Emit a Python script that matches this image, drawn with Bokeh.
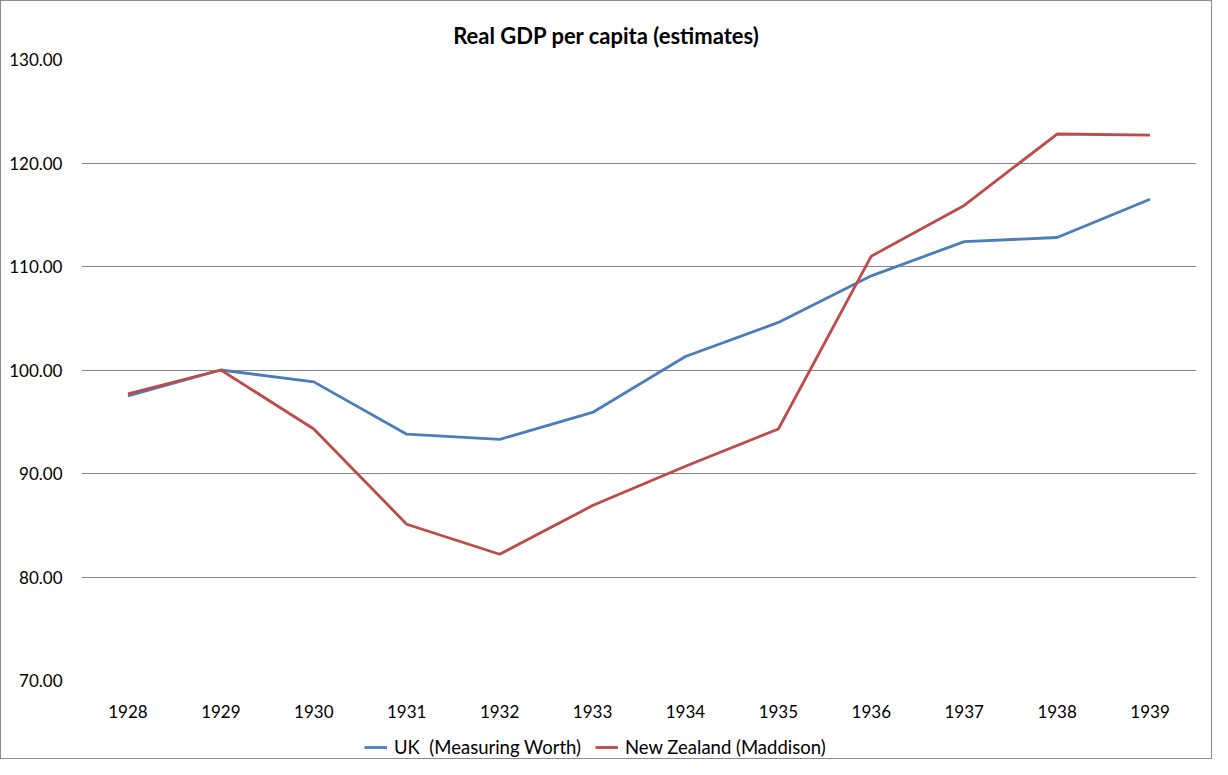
from bokeh.plotting import figure
from bokeh.layouts import column
from bokeh.models import Legend, LegendItem, FactorRange, Range1d, FixedTicker, CustomJSTickFormatter, Label
from bokeh.embed import file_html
from bokeh.resources import INLINE

years = ["1928", "1929", "1930", "1931", "1932", "1933", "1934", "1935", "1936", "1937", "1938", "1939"]
uk = [97.5, 100.0, 98.85, 93.8, 93.3, 95.9, 101.3, 104.6, 109.1, 112.4, 112.8, 116.5]
nz = [97.7, 100.0, 94.3, 85.1, 82.2, 86.9, 90.7, 94.3, 111.0, 115.9, 122.8, 122.7]
y_ticks = [70, 80, 90, 100, 110, 120, 130]
title_text = "Real GDP per capita (estimates)"
uk_label = "UK  (Measuring Worth)"
nz_label = "New Zealand (Maddison)"

FONT = "Lato"
UK_COLOR = "#4A7EBB"
NZ_COLOR = "#BE4B48"
W = 1210

# title strip (its frame is aligned with the chart's frame)
t = figure(width=W, height=48, output_backend="svg", toolbar_location=None,
           x_range=Range1d(0, 1), y_range=Range1d(0, 1),
           min_border=0, outline_line_color=None)
t.axis.visible = False
t.grid.visible = False
t.add_layout(Label(x=525, y=14, x_units="screen", y_units="screen", text=title_text,
                   text_font=FONT, text_font_size="22px", text_font_style="bold",
                   text_color="black", text_align="center", text_baseline="alphabetic"))

p = figure(width=W, height=673, output_backend="svg", toolbar_location=None,
           x_range=FactorRange(*years, range_padding=0), y_range=Range1d(70, 130),
           min_border_left=80, min_border_right=15, min_border_top=10, min_border_bottom=42)

p.outline_line_color = None
p.xgrid.grid_line_color = None
p.ygrid.grid_line_color = "#868686"
p.ygrid.grid_line_width = 1

p.yaxis.ticker = FixedTicker(ticks=y_ticks)
p.yaxis.formatter = CustomJSTickFormatter(code="return tick.toFixed(2);")
for ax in (p.xaxis[0], p.yaxis[0]):
    ax.axis_line_color = None
    ax.major_tick_line_color = None
    ax.minor_tick_line_color = None
    ax.major_label_text_font = FONT
    ax.major_label_text_font_size = "17px"
    ax.major_label_text_color = "black"
p.yaxis.major_label_standoff = 13
p.xaxis.major_label_standoff = 18

p.line(years, uk, line_color=UK_COLOR, line_width=2.8)
p.line(years, nz, line_color=NZ_COLOR, line_width=2.8)

# legend strip below the chart (its frame is aligned with the chart's frame)
q = figure(width=W, height=36, output_backend="svg", toolbar_location=None,
           x_range=Range1d(0, 1), y_range=Range1d(0, 1),
           min_border=0, outline_line_color=None)
q.axis.visible = False
q.grid.visible = False
g1 = q.line(x=[5, 6], y=[5, 6], line_color=UK_COLOR, line_width=2.8)
g2 = q.line(x=[5, 6], y=[5, 6], line_color=NZ_COLOR, line_width=2.8)
legend = Legend(items=[LegendItem(label=uk_label, renderers=[g1]),
                       LegendItem(label=nz_label, renderers=[g2])],
                orientation="horizontal", location=(283, 0),
                label_text_font=FONT, label_text_font_size="18.5px", label_text_color="black",
                glyph_width=23, glyph_height=16, label_standoff=7, spacing=14,
                border_line_color=None, background_fill_alpha=0, padding=4, margin=0)
q.add_layout(legend, "center")

layout = column(t, p, q, spacing=0)
layout.styles = {"border": "1px solid #8c8c8c"}

open("out.html", "w").write(file_html(layout, INLINE))
